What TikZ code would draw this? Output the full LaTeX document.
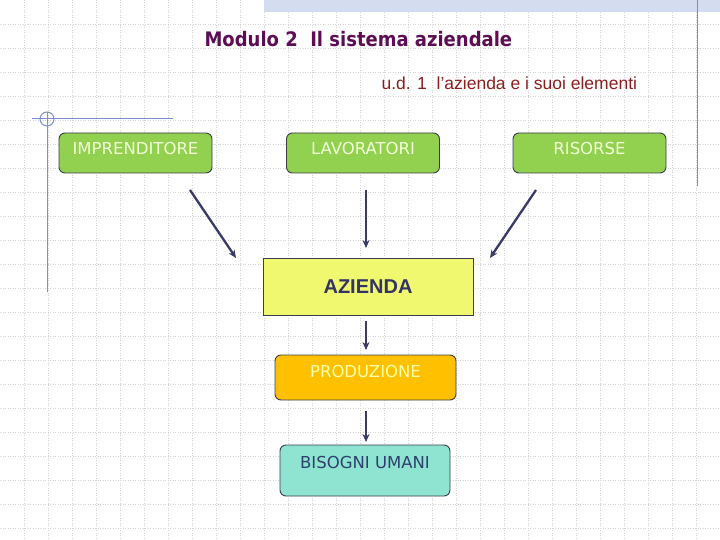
\documentclass[tikz,border=0pt]{standalone}
\usepackage{fontspec}
\setmainfont{DejaVu Sans}
\newfontfamily\titlefont{DejaVu Sans Condensed}
\newfontfamily\subfont{Liberation Sans}
\newfontfamily\boldfont{Liberation Sans}
\definecolor{gridc}{RGB}{212,212,212}
\definecolor{greenf}{RGB}{146,208,80}
\definecolor{greent}{RGB}{242,255,216}
\definecolor{borderc}{RGB}{60,60,80}
\definecolor{yellowf}{RGB}{240,248,112}
\definecolor{orangef}{RGB}{255,192,0}
\definecolor{oranget}{RGB}{255,255,170}
\definecolor{tealf}{RGB}{142,228,208}
\definecolor{navyt}{RGB}{47,63,111}
\definecolor{azt}{RGB}{51,51,102}
\definecolor{arrowc}{RGB}{58,58,105}
\definecolor{titlec}{RGB}{92,13,83}
\definecolor{subc}{RGB}{139,30,30}
\definecolor{decoc}{RGB}{124,143,207}
\definecolor{bandc}{RGB}{212,220,240}
\tikzset{
  gridline/.style={gridc, line width=0.6pt, dash pattern=on 1pt off 1.5pt},
  greenbox/.style={draw=borderc, line width=0.9pt, fill=greenf, rounded corners=6pt,
    minimum width=153pt, minimum height=40pt, inner sep=0pt,
    text=greent, font=\fontsize{16.5}{18}\selectfont, text height=12pt, text depth=8pt},
  azbox/.style={draw=borderc, line width=0.9pt, fill=yellowf,
    minimum width=210pt, minimum height=57pt, inner sep=0pt,
    text=azt, font=\boldfont\bfseries\fontsize{20}{22}\selectfont},
  prodbox/.style={draw=borderc, line width=0.9pt, fill=orangef, rounded corners=6pt,
    minimum width=181pt, minimum height=45pt, inner sep=0pt,
    text=oranget, font=\fontsize{16.5}{18}\selectfont, text height=12pt, text depth=13pt},
  bisbox/.style={draw=borderc, line width=0.9pt, fill=tealf, rounded corners=6pt,
    minimum width=170pt, minimum height=51pt, inner sep=0pt,
    text=navyt, font=\fontsize{16.5}{18}\selectfont, text height=12pt, text depth=17pt},
  arr/.style={arrowc, line width=2.3pt, -{Stealth[length=8pt,width=7pt]}},
  deco/.style={decoc, line width=1pt}
}
\usetikzlibrary{arrows.meta}
\begin{document}
\begin{tikzpicture}[x=1pt,y=-1pt]
\useasboundingbox (0,0) rectangle (720,540);
\fill[white] (0,0) rectangle (720,540);
% grid
\foreach \i in {1,...,29} \draw[gridline] (\i*24,0) -- (\i*24,540);
\foreach \j in {1,...,22} \draw[gridline] (0,\j*24) -- (720,\j*24);
% top band
\fill[bandc] (264,0) rectangle (720,12);
% decorations
\draw[deco] (32,119) -- (173,119);
\draw[deco] (47,112) -- (47,292);
\draw[deco] (47,119) circle (7);
\draw[deco, decoc!80!gray] (697,0) -- (697,186);
% title
\node[text=titlec, font=\titlefont\bfseries\fontsize{20}{23}\selectfont, anchor=base west] (title) at (201,47) {Modulo 2\ \ Il sistema aziendale};
\node[text=subc, font=\subfont\fontsize{17.5}{20}\selectfont, anchor=base west] (sub) at (378,90) {u.d. 1\ \ l’azienda e i suoi elementi};
% nodes
\node[greenbox] (imp) at (135.5,153) {IMPRENDITORE};
\node[greenbox] (lav) at (363,153) {LAVORATORI};
\node[greenbox] (ris) at (589.5,153) {RISORSE};
\node[azbox] (az) at (368,286.5) {AZIENDA};
\node[prodbox] (prod) at (365.5,377.5) {PRODUZIONE};
\node[bisbox] (bis) at (365,470.5) {BISOGNI UMANI};
% arrow endpoints
\coordinate (a1s) at (190,190); \coordinate (a1e) at (236,258);
\coordinate (a2s) at (366,190); \coordinate (a2e) at (366,248);
\coordinate (a3s) at (536,190); \coordinate (a3e) at (490,258);
\coordinate (a4s) at (366,321); \coordinate (a4e) at (366,350);
\coordinate (a5s) at (366,411); \coordinate (a5e) at (366,442);
\draw[arr] (a1s) -- (a1e);
\draw[arr] (a2s) -- (a2e);
\draw[arr] (a3s) -- (a3e);
\draw[arr] (a4s) -- (a4e);
\draw[arr] (a5s) -- (a5e);
\end{tikzpicture}
\end{document}
